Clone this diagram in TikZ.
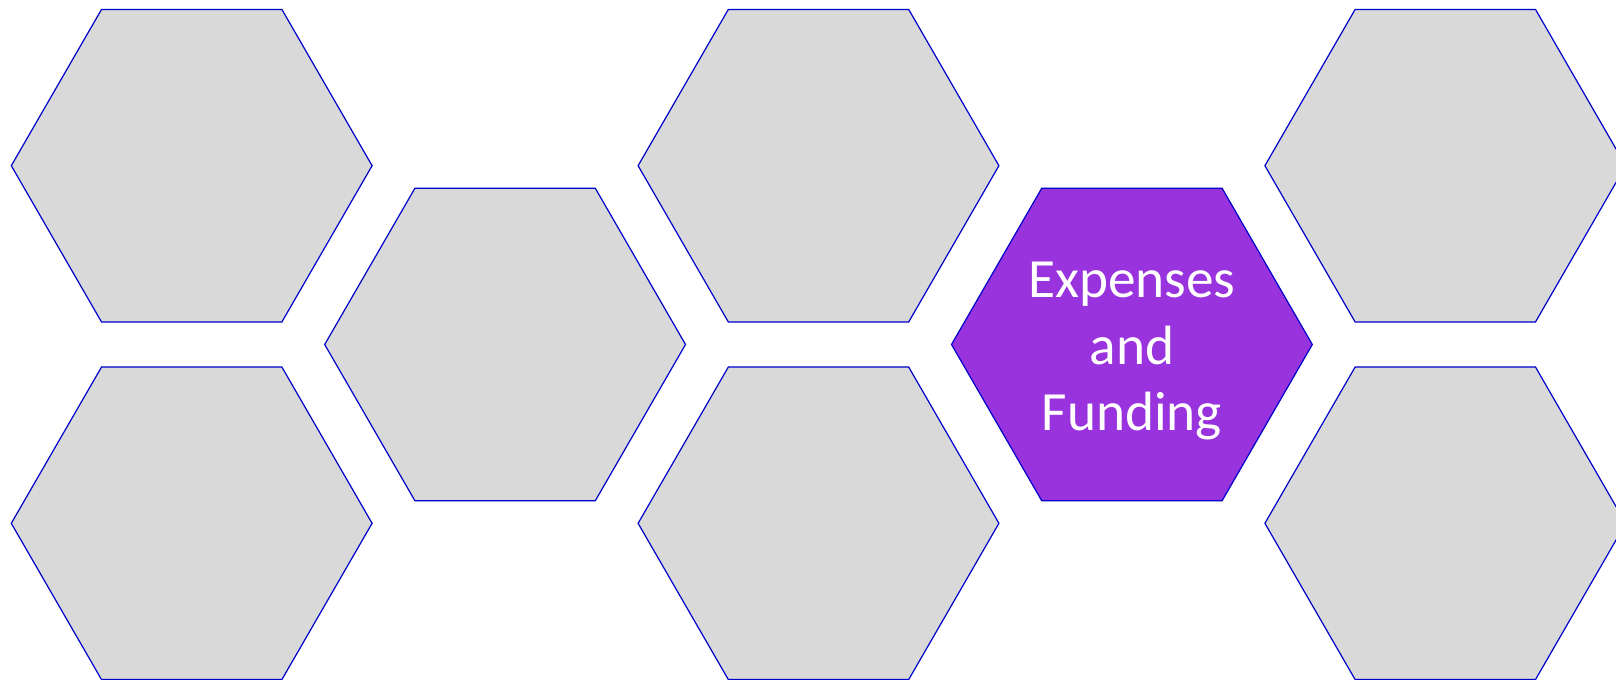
\documentclass[tikz,border=0pt]{standalone}
\usepackage{fontspec}
\setmainfont{Carlito}
\usetikzlibrary{shapes.geometric}
\definecolor{hexline}{HTML}{0000CC}
\definecolor{hexgrey}{HTML}{D9D9D9}
\definecolor{hexpurple}{HTML}{9933DD}
\begin{document}
\begin{tikzpicture}[
        x=0.75pt, y=-0.75pt,
        hex/.style={regular polygon, regular polygon sides=6,
        minimum size=270.6pt, inner sep=0pt, outer sep=0pt,
        draw=hexline, line width=0.9pt, fill=hexgrey},
        hexhi/.style={hex, fill=hexpurple},
        hexlbl/.style={text=white, align=center, inner sep=0pt,
        font=\fontsize{41.5}{50}\selectfont}
      ]
      \clip (0,0) rectangle (1616,680);

      % Left column
      \node[hex] (hexTL) at (191.7, 165.7) {};
      \node[hex] (hexBL) at (191.7, 523.3) {};

      % Second column
      \node[hex] (hexML) at (505.1, 344.5) {};

      % Centre column
      \node[hex] (hexTC) at (818.5, 165.7) {};
      \node[hex] (hexBC) at (818.5, 523.3) {};

      % Highlighted hexagon
      \node[hexhi] (hexMR) at (1131.9, 344.5) {};
      \node[hexlbl] (lblMR) at ([yshift=-5pt]hexMR.center)
      {Expenses\\and\\Funding};

      % Right column (cut by the edge)
      \node[hex] (hexTR) at (1445.3, 165.7) {};
      \node[hex] (hexBR) at (1445.3, 523.3) {};
    \end{tikzpicture}
\end{document}
